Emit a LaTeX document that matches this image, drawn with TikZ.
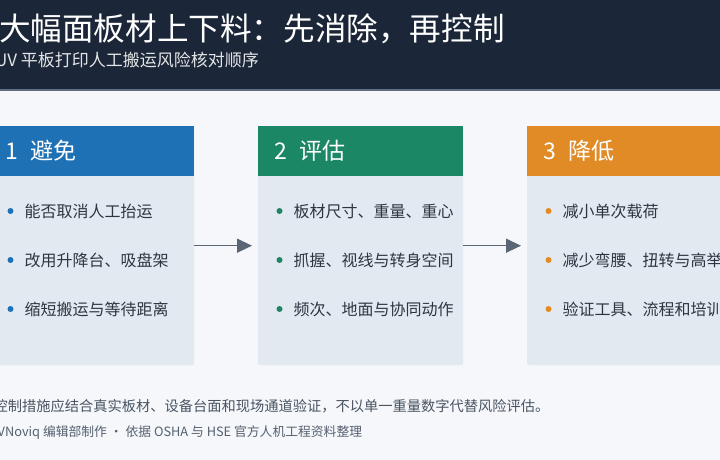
\documentclass[tikz,border=0pt]{standalone}
\usepackage{fontspec}
\setmainfont{Noto Sans CJK SC}
\usetikzlibrary{arrows.meta}
\definecolor{navy}{HTML}{1B2638}
\definecolor{navyline}{HTML}{5E6D82}
\definecolor{pagebg}{HTML}{F5F7FA}
\definecolor{cardbg}{HTML}{E3E9F0}
\definecolor{cblue}{HTML}{1F71B6}
\definecolor{cgreen}{HTML}{1C8764}
\definecolor{corange}{HTML}{E08B25}
\definecolor{bodytext}{HTML}{2C3541}
\definecolor{arrowc}{HTML}{5A6676}
\definecolor{foot1}{HTML}{4A5462}
\definecolor{foot2}{HTML}{566070}
\tikzset{
  cardbody/.style={fill=cardbg, draw=none, rounded corners=1.5pt, minimum width=205pt, minimum height=239pt, anchor=north west, inner sep=0pt},
  cardhead/.style={fill=#1, draw=none, minimum width=205pt, minimum height=50pt, anchor=north west, inner sep=0pt},
  headnum/.style={anchor=west, inner sep=0pt, text=white, font=\fontsize{23}{27}\selectfont},
  bulletdot/.style={circle, fill=#1, draw=none, minimum size=6pt, inner sep=0pt},
  bullettext/.style={anchor=west, inner sep=0pt, text=bodytext, font=\fontsize{16}{19}\selectfont},
  flowarrow/.style={draw=arrowc, line width=1.3pt, -{Triangle[length=15pt,width=14pt]}},
}
\begin{document}
\begin{tikzpicture}[x=1pt,y=-1pt]
\useasboundingbox (0,0) rectangle (720,460);
\clip (0,0) rectangle (720,460);
\fill[pagebg] (0,0) rectangle (720,460);
% header band
\fill[navy] (0,0) rectangle (720,89);
\fill[navyline] (0,89) rectangle (720,91);
\node[anchor=west, inner sep=0pt, text=white, font=\fontsize{31.6}{36}\selectfont] (title) at (-1,29) {大幅面板材上下料：先消除，再控制};
\node[anchor=west, inner sep=0pt, text=white!88!navy, font=\fontsize{17}{20}\selectfont] (subtitle) at (-5,60) {UV 平板打印人工搬运风险核对顺序};
% card 1
\node[cardbody] (c1) at (-11,126) {};
\node[cardhead=cblue] (h1) at (-11,126) {};
\node[headnum] (n1) at (5,151) {1};
\node[headnum] (t1) at (30,151) {避免};
\node[bulletdot=cblue] (d11) at (10.5,211) {};
\node[bullettext] (b11) at (24.5,211) {能否取消人工抬运};
\node[bulletdot=cblue] (d12) at (10.5,260) {};
\node[bullettext] (b12) at (24.5,260) {改用升降台、吸盘架};
\node[bulletdot=cblue] (d13) at (10.5,309) {};
\node[bullettext] (b13) at (24.5,309) {缩短搬运与等待距离};
% card 2
\node[cardbody] (c2) at (258,126) {};
\node[cardhead=cgreen] (h2) at (258,126) {};
\node[headnum] (n2) at (274.5,151) {2};
\node[headnum] (t2) at (299,151) {评估};
\node[bulletdot=cgreen] (d21) at (279.5,211) {};
\node[bullettext] (b21) at (293.5,211) {板材尺寸、重量、重心};
\node[bulletdot=cgreen] (d22) at (279.5,260) {};
\node[bullettext] (b22) at (293.5,260) {抓握、视线与转身空间};
\node[bulletdot=cgreen] (d23) at (279.5,309) {};
\node[bullettext] (b23) at (293.5,309) {频次、地面与协同动作};
% card 3
\node[cardbody] (c3) at (527,126) {};
\node[cardhead=corange] (h3) at (527,126) {};
\node[headnum] (n3) at (543.5,151) {3};
\node[headnum] (t3) at (568,151) {降低};
\node[bulletdot=corange] (d31) at (548.5,211) {};
\node[bullettext] (b31) at (562.5,211) {减小单次载荷};
\node[bulletdot=corange] (d32) at (548.5,260) {};
\node[bullettext] (b32) at (562.5,260) {减少弯腰、扭转与高举};
\node[bulletdot=corange] (d33) at (548.5,309) {};
\node[bullettext] (b33) at (562.5,309) {验证工具、流程和培训};
% arrows
\draw[flowarrow] (c1.east) -- ([xshift=-6pt]c2.west);
\draw[flowarrow] (c2.east) -- ([xshift=-6pt]c3.west);
% footer
\node[anchor=west, inner sep=0pt, text=foot1, font=\fontsize{14.25}{17}\selectfont] (foot1) at (-6.5,406) {控制措施应结合真实板材、设备台面和现场通道验证，不以单一重量数字代替风险评估。};
\node[anchor=west, inner sep=0pt, text=foot2, font=\fontsize{12.8}{16}\selectfont] (foot2) at (-2.5,433) {VNoviq 编辑部制作 · 依据 OSHA 与 HSE 官方人机工程资料整理};
\end{tikzpicture}
\end{document}
